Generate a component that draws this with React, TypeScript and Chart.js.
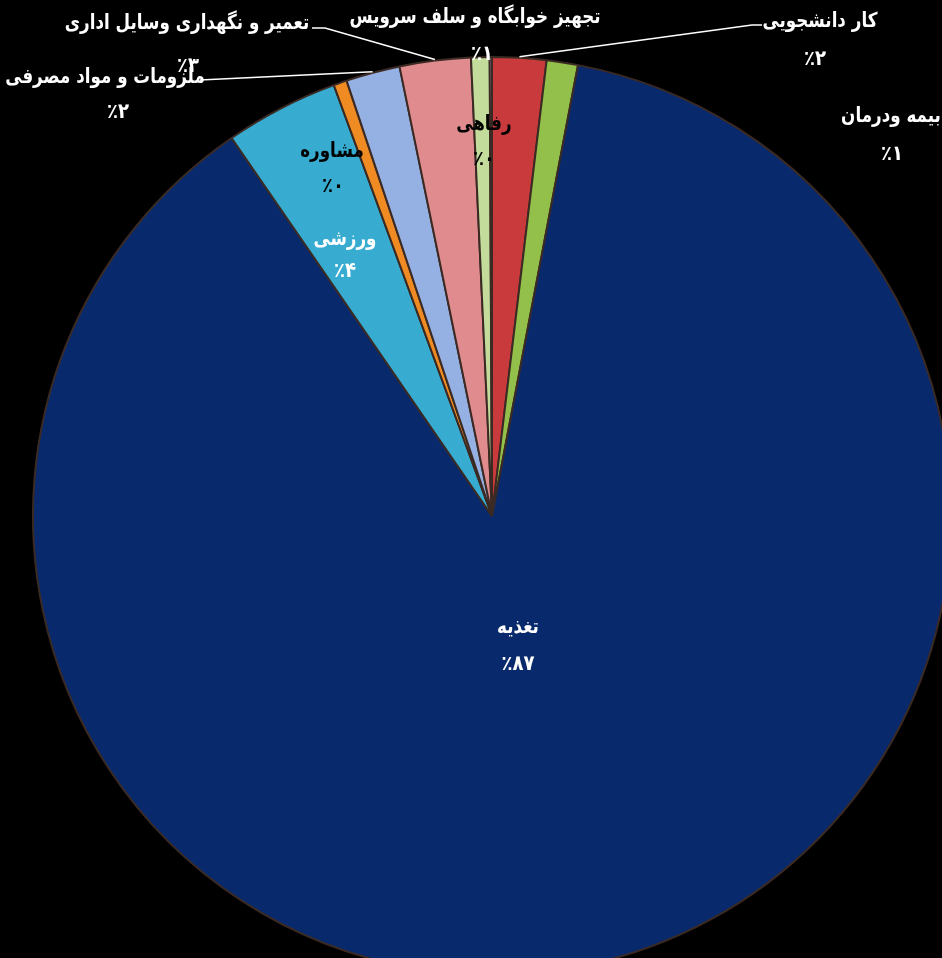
import React, { useEffect, useRef } from 'react';
import { Chart, ArcElement, PieController } from 'chart.js';

Chart.register(ArcElement, PieController);

const categories = [
  'کار دانشجویی',
  'بیمه ودرمان',
  'تغذیه',
  'ورزشی',
  'مشاوره',
  'ملزومات و مواد مصرفی',
  'تعمیر و نگهداری وسایل اداری',
  'تجهیز خوابگاه و سلف سرویس',
  'رفاهی',
];
const values = [1.9, 1.1, 87.4, 4.0, 0.47, 1.9, 2.5, 0.65, 0.08];
const percentLabels = ['۲', '۱', '۸۷', '۴', '۰', '۲', '۳', '۱', '۰'];
const sliceColors = ['#c83a3b', '#92c04a', '#082a6c', '#37acd0', '#f08a22', '#95b0e2', '#e08c8f', '#c3dc9c', '#b9a2d2'];

// label layout: name center, percent center, text colour, optional leader start
const labelLayout = [
  { nx: 820, ny: 22, px: 815, py: 60, c: '#fff', leader: [[762, 25], [752, 25]] },
  { nx: 891, ny: 117, px: 892, py: 155, c: '#fff', leader: null },
  { nx: 518, ny: 628, px: 518, py: 665, c: '#fff', leader: null },
  { nx: 345, ny: 240, px: 345, py: 272, c: '#fff', leader: null },
  { nx: 332, ny: 152, px: 333, py: 187, c: '#000', leader: null },
  { nx: 105, ny: 78, px: 118, py: 113, c: '#fff', leader: [[200, 80]] },
  { nx: 187, ny: 24, px: 188, py: 67, c: '#fff', leader: [[312, 28], [325, 28]] },
  { nx: 475, ny: 18, px: 482, py: 55, c: '#fff', leader: null },
  { nx: 484, ny: 125, px: 484, py: 160, c: '#000', leader: null },
];

const labelPlugin = {
  id: 'labels',
  afterDatasetsDraw(chart: any) {
    const ctx = chart.ctx;
    const arcs = chart.getDatasetMeta(0).data;
    ctx.save();
    ctx.strokeStyle = '#ffffff';
    ctx.lineWidth = 1.5;
    labelLayout.forEach((l, i) => {
      if (!l.leader) return;
      const a = arcs[i];
      const mid = (a.startAngle + a.endAngle) / 2;
      const ex = a.x + Math.cos(mid) * (a.outerRadius + 1);
      const ey = a.y + Math.sin(mid) * (a.outerRadius + 1);
      ctx.beginPath();
      ctx.moveTo(l.leader[0][0], l.leader[0][1]);
      for (let k = 1; k < l.leader.length; k++) ctx.lineTo(l.leader[k][0], l.leader[k][1]);
      ctx.lineTo(ex, ey);
      ctx.stroke();
    });
    ctx.textAlign = 'center';
    ctx.textBaseline = 'middle';
    labelLayout.forEach((l, i) => {
      ctx.fillStyle = l.c;
      ctx.save();
      ctx.translate(l.nx, l.ny);
      ctx.scale(0.88, 1.08);
      ctx.font = 'bold 19px "DejaVu Sans"';
      ctx.direction = 'rtl';
      ctx.fillText(categories[i], 0, 0);
      ctx.restore();
      ctx.save();
      ctx.translate(l.px, l.py);
      ctx.scale(0.95, 1.1);
      ctx.direction = 'ltr';
      ctx.font = 'bold 19px "DejaVu Sans"';
      ctx.fillText('٪' + percentLabels[i], 0, 0);
      ctx.restore();
    });
    ctx.restore();
  },
};

export default function App() {
  const ref = useRef<HTMLCanvasElement>(null);
  useEffect(() => {
    const chart = new Chart(ref.current!, {
      type: 'pie',
      data: {
        labels: categories,
        datasets: [
          {
            data: values,
            backgroundColor: sliceColors,
            borderColor: '#3b2a24',
            borderWidth: 2,
          },
        ],
      },
      options: {
        responsive: false,
        animation: false,
        devicePixelRatio: 1,
        layout: { padding: { left: 32, top: 56, right: 48, bottom: 24 } },
        plugins: { legend: { display: false }, tooltip: { enabled: false } },
      },
      plugins: [labelPlugin],
    });
    return () => chart.destroy();
  }, []);
  return (
    <div style={{ position: 'fixed', left: 0, top: 0, width: 942, height: 958, overflow: 'hidden', background: '#000' }}>
      <canvas ref={ref} width={1000} height={1000} style={{ position: 'absolute', left: 0, top: 0 }} />
    </div>
  );
}
